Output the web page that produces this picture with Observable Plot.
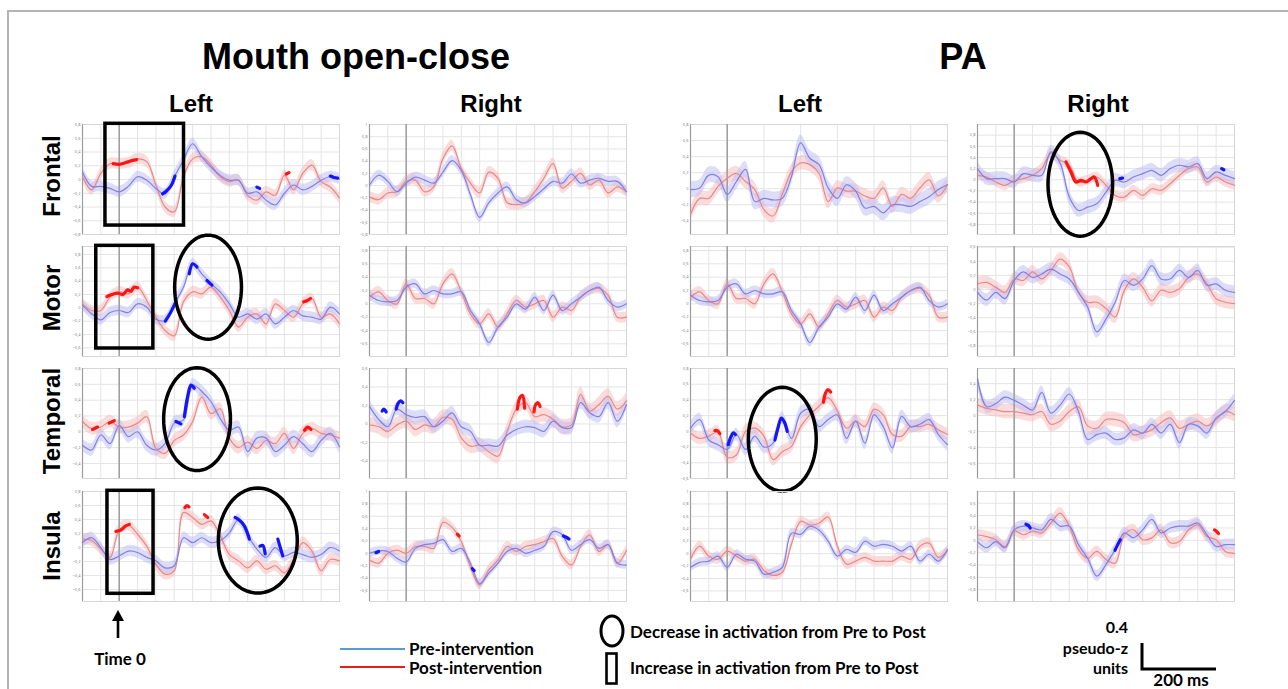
<!DOCTYPE html>
<html>
<head>
<meta charset="utf-8">
<script src="https://cdn.jsdelivr.net/npm/d3@7"></script>
<script src="https://cdn.jsdelivr.net/npm/@observablehq/plot@0.6"></script>
<style>
html, body { margin: 0; padding: 0; background: #fff; }
#fig { position: relative; width: 1288px; height: 689px; overflow: hidden; background: #fff; font-family: "Liberation Sans", Arial, sans-serif; }
#frame { position: absolute; left: 7px; top: 10px; width: 1300px; height: 700px; border: 2px solid #b4b4b4; box-sizing: border-box; }
.t { position: absolute; font-weight: bold; color: #000; white-space: nowrap; line-height: 1; }
.c { transform: translate(-50%, -50%); }
.rot { transform: translate(-50%, -50%) rotate(-90deg); }
.lg { font-family: Lato, "Open Sans", sans-serif; font-size: 17px; transform: translate(0, -50%); }
.lgr { font-family: Lato, "Open Sans", sans-serif; font-size: 16px; line-height: 0.9; transform: translate(-100%, -50%); }
.lgc { font-family: Lato, "Open Sans", sans-serif; font-size: 17px; transform: translate(-50%, -50%); }
</style>
</head>
<body>
<div id="fig"><div id="frame"></div></div>
<script>
// ---------------- data ----------------
const times = [-200,-150,-100,-50,0,50,100,150,200,250,300,350,400,450,500,550,600,650,700,750,800,850,900,950,1000,1050,1100,1150,1200];
const conditions = ["Mouth open-close", "PA"];
const columnLabels = ["Left", "Right", "Left", "Right"];
const regions = ["Frontal", "Motor", "Temporal", "Insula"];

// Frontal
const frontalMouthLeftPre  = [0.11,-0.10,-0.10,-0.13,-0.18,-0.10,0.04,-0.01,-0.13,-0.21,0.04,0.28,0.52,0.33,0.18,0.06,-0.01,-0.01,-0.20,-0.18,-0.30,-0.37,-0.20,-0.08,-0.15,-0.10,-0.01,0.04,0.01];
const frontalMouthLeftPost = [0.04,-0.15,0.09,0.23,0.23,0.24,0.30,0.26,-0.08,-0.40,-0.47,0.04,0.30,0.33,0.21,0.04,-0.03,-0.01,-0.23,-0.30,-0.18,-0.23,0.06,-0.15,0.09,0.21,-0.03,-0.11,-0.27];
const frontalMouthRightPre  = [0.01,0.17,0.07,-0.10,0.04,0.14,0.09,0.04,0.22,0.41,0.25,-0.15,-0.52,-0.28,-0.12,-0.02,-0.23,-0.28,-0.18,-0.05,0.07,0.04,0.19,0.04,0.09,0.12,0.07,0.07,-0.10];
const frontalMouthRightPost = [-0.18,-0.23,-0.12,-0.10,0.07,0.09,-0.10,-0.02,0.44,0.65,0.28,0.04,-0.12,0.22,0.12,-0.28,-0.31,-0.28,-0.10,0.12,0.36,-0.04,0.07,0.20,0.01,0.09,-0.12,-0.02,-0.10];
const frontalPALeftPre  = [-0.01,0.01,0.17,0.15,-0.07,0.09,0.24,-0.16,-0.12,-0.14,-0.12,0.15,0.57,0.38,0.30,0.01,-0.12,0.05,-0.03,-0.24,-0.22,-0.30,-0.20,-0.20,-0.22,-0.16,-0.10,-0.01,0.05];
const frontalPALeftPost = [-0.32,-0.12,-0.12,0.03,0.13,0.19,0.09,-0.01,-0.26,-0.34,-0.07,0.21,0.32,0.30,0.19,-0.16,0.01,-0.03,-0.03,-0.09,-0.12,0.01,-0.22,-0.07,-0.12,0.01,0.11,-0.09,0.05];
const frontalPARightPre  = [0.20,0.02,0.02,0.02,-0.04,0.11,0.08,0.08,0.50,0.30,-0.31,-0.55,-0.49,-0.43,-0.22,-0.01,-0.04,0.05,0.11,0.17,0.08,0.20,0.26,0.23,0.29,0.02,0.14,0.08,0.02];
const frontalPARightPost = [0.08,0.05,-0.04,-0.10,-0.01,0.02,0.08,0.20,0.47,0.35,0.26,-0.04,-0.01,0.05,-0.10,-0.28,-0.31,-0.19,-0.28,-0.16,-0.19,-0.07,0.08,0.20,0.23,-0.04,0.05,-0.04,-0.10];
// Motor
const motorMouthLeftPre  = [0.04,-0.09,-0.18,-0.07,-0.04,-0.07,0.06,0.01,-0.17,-0.19,0.06,0.31,0.66,0.51,0.36,0.24,0.06,-0.14,-0.09,-0.17,-0.09,-0.24,-0.14,-0.04,-0.12,-0.14,-0.17,0.01,-0.09];
const motorMouthLeftPost = [0.06,-0.04,-0.04,0.16,0.24,0.21,0.31,0.11,-0.14,-0.34,-0.42,0.09,0.24,0.21,0.31,0.16,-0.04,-0.29,-0.14,-0.09,-0.24,0.06,-0.04,-0.14,0.06,0.14,-0.14,-0.09,-0.24];
const motorMouthRightPre  = [0.13,0.05,0.03,0.05,0.25,0.30,0.15,0.20,0.15,0.15,0.18,-0.10,-0.30,-0.58,-0.35,-0.20,0.00,-0.08,0.10,-0.10,0.13,-0.10,0.00,0.10,0.20,0.25,0.05,-0.05,0.00];
const motorMouthRightPost = [0.10,0.18,0.05,0.00,0.30,0.08,0.08,0.00,0.30,0.45,0.18,-0.15,-0.30,-0.15,-0.35,-0.15,0.05,-0.05,0.00,0.05,-0.20,-0.05,-0.10,0.10,0.20,0.23,0.13,-0.20,-0.20];
const motorPALeftPre  = [0.13,0.05,0.03,0.05,0.25,0.30,0.15,0.20,0.15,0.15,0.18,-0.10,-0.30,-0.58,-0.35,-0.20,0.00,-0.08,0.10,-0.10,0.13,-0.10,0.00,0.10,0.20,0.25,0.05,-0.05,0.00];
const motorPALeftPost = [0.10,0.18,0.05,0.00,0.30,0.08,0.08,0.00,0.30,0.45,0.18,-0.15,-0.30,-0.15,-0.35,-0.15,0.05,-0.05,0.00,0.05,-0.20,-0.05,-0.10,0.10,0.20,0.23,0.13,-0.20,-0.20];
const motorPARightPre  = [-0.04,-0.15,-0.04,-0.13,0.13,0.25,0.17,0.22,0.29,0.22,0.15,-0.04,-0.25,-0.60,-0.42,-0.18,0.13,0.06,0.15,0.34,0.15,0.15,0.27,0.17,0.27,0.06,0.08,-0.01,-0.04];
const motorPARightPost = [0.08,0.10,0.03,-0.04,0.15,0.13,0.25,0.15,0.27,0.43,0.32,-0.04,-0.18,-0.18,-0.27,-0.39,-0.01,0.15,0.03,-0.16,-0.01,-0.04,0.01,0.17,0.22,0.08,-0.13,-0.18,-0.20];
// Temporal
const temporalMouthLeftPre  = [-0.17,-0.23,-0.04,-0.15,0.08,-0.06,0.00,-0.17,-0.23,-0.15,0.11,0.15,0.59,0.51,0.38,0.17,0.02,0.06,-0.25,-0.08,-0.08,-0.25,-0.17,-0.06,-0.15,-0.25,-0.11,-0.02,-0.19];
const temporalMouthLeftPost = [0.13,0.04,0.06,0.13,0.06,0.06,0.11,0.19,-0.21,-0.27,-0.11,-0.04,0.13,0.44,0.23,0.29,-0.08,-0.20,-0.13,-0.21,-0.11,-0.15,-0.02,-0.21,-0.02,0.04,-0.02,-0.04,-0.08];
const temporalMouthRightPre  = [0.19,0.05,-0.03,0.16,0.10,0.07,0.08,-0.03,0.03,0.12,-0.03,-0.08,-0.23,-0.23,-0.24,-0.12,-0.06,-0.03,-0.04,-0.08,0.03,-0.04,-0.04,0.23,0.12,0.08,0.23,0.03,0.21];
const temporalMouthRightPost = [-0.01,-0.03,-0.08,-0.01,0.03,-0.06,-0.01,-0.03,0.07,0.05,-0.15,-0.24,-0.23,-0.30,-0.35,-0.08,0.16,0.23,0.08,0.10,0.05,-0.03,-0.01,0.32,0.14,0.21,0.30,0.16,0.25];
const temporalPALeftPre  = [0.04,0.15,-0.11,-0.17,-0.23,-0.04,-0.23,-0.06,-0.20,-0.15,0.17,-0.09,0.23,0.28,0.06,0.15,0.21,-0.09,0.13,-0.15,0.21,0.06,-0.21,0.19,0.06,0.09,0.15,-0.04,-0.17];
const temporalPALeftPost = [-0.02,-0.09,-0.06,-0.01,-0.33,-0.30,0.00,0.04,-0.06,-0.36,-0.26,-0.19,0.06,0.21,0.32,0.43,0.26,0.04,0.13,0.06,0.28,0.21,-0.04,-0.06,0.06,0.06,0.09,0.02,-0.04];
const temporalPARightPre  = [0.46,0.11,0.15,0.23,0.19,0.13,0.07,0.29,0.03,0.13,0.27,0.05,-0.30,-0.24,-0.22,-0.30,-0.28,-0.18,-0.22,-0.11,-0.22,-0.11,-0.34,-0.11,-0.13,-0.22,-0.03,0.05,0.19];
const temporalPARightPost = [0.13,0.09,0.07,0.05,0.05,0.03,0.01,0.05,-0.11,-0.07,0.05,0.11,-0.13,-0.16,-0.05,-0.05,-0.09,-0.24,-0.22,-0.18,-0.09,-0.03,-0.16,-0.11,-0.07,-0.13,-0.05,0.05,0.01];
// Insula
const insulaMouthLeftPre  = [0.07,0.14,0.00,-0.17,-0.12,-0.05,-0.07,-0.14,-0.19,-0.29,-0.26,0.14,0.07,0.14,0.07,0.10,0.21,0.40,0.17,-0.02,-0.14,0.00,-0.12,-0.07,-0.10,-0.14,-0.10,0.00,-0.05];
const insulaMouthLeftPost = [0.12,0.10,-0.02,-0.14,0.25,0.32,0.19,0.02,-0.24,-0.38,-0.33,0.50,0.43,0.33,0.38,0.17,-0.10,-0.19,-0.29,-0.19,-0.31,-0.26,-0.36,-0.17,0.07,-0.05,-0.33,-0.17,-0.19];
const insulaMouthRightPre  = [0.00,0.04,0.03,-0.08,-0.14,0.08,0.14,0.16,0.22,0.03,0.08,-0.16,-0.49,-0.32,-0.16,0.03,0.08,0.00,0.05,0.11,0.35,0.30,0.05,0.14,0.22,0.08,0.14,-0.16,-0.19];
const insulaMouthRightPost = [-0.11,-0.16,0.00,0.05,0.00,0.11,0.11,0.08,0.50,0.42,0.19,-0.22,-0.51,-0.27,-0.11,0.11,0.03,0.11,0.14,0.19,0.24,-0.05,-0.19,0.11,0.30,0.03,0.14,-0.16,0.05];
const insulaPALeftPre  = [-0.22,-0.14,-0.12,-0.04,-0.22,-0.01,-0.09,-0.12,-0.33,-0.30,-0.22,0.33,0.31,0.44,0.38,0.20,-0.04,0.07,0.02,0.20,0.12,0.15,0.12,0.04,0.12,-0.12,-0.01,-0.12,0.07];
const insulaPALeftPost = [-0.09,0.12,-0.04,-0.09,0.04,-0.04,-0.12,-0.09,-0.27,-0.35,-0.30,0.15,0.52,0.46,0.49,0.59,0.12,-0.17,-0.12,-0.06,-0.12,-0.12,-0.12,-0.04,-0.09,0.12,0.17,-0.06,0.04];
const insulaPARightPre  = [-0.02,-0.12,-0.02,-0.12,0.17,0.23,0.20,0.17,0.34,0.23,0.23,-0.07,-0.29,-0.58,-0.39,-0.15,0.12,0.04,0.17,0.34,0.12,0.20,0.23,0.23,0.28,0.09,-0.10,-0.07,-0.07];
const insulaPARightPost = [0.09,0.06,0.01,-0.10,0.15,0.09,0.15,0.12,0.28,0.44,0.23,-0.15,-0.29,-0.18,-0.31,-0.37,0.09,0.17,0.01,0.04,0.17,-0.04,-0.02,0.17,0.25,0.06,0.01,-0.18,-0.21];

// y-axis range of each panel (row-major: Frontal, Motor, Temporal, Insula; columns Mouth L, Mouth R, PA L, PA R)
const yDomains = [
  [-0.80, 0.80], [-0.80, 1.00], [-0.57, 0.80], [-0.98, 0.99],
  [-0.73, 0.92], [-0.79, 0.86], [-0.79, 0.86], [-0.95, 0.61],
  [-0.59, 0.80], [-0.59, 0.60], [-0.60, 0.80], [-0.79, 0.59],
  [-0.77, 0.80], [-0.78, 1.00], [-0.77, 1.00], [-0.99, 0.79]
];
// half-width of the shaded error band (pseudo-z)
const preBands  = [0.08,0.08,0.10,0.12, 0.08,0.07,0.07,0.09, 0.08,0.07,0.08,0.08, 0.08,0.07,0.07,0.09];
const postBands = [0.08,0.09,0.09,0.09, 0.08,0.08,0.08,0.09, 0.08,0.08,0.08,0.09, 0.08,0.08,0.08,0.09];
const gridSteps = [100,100,200,100, 100,100,100,100, 100,100,100,100, 100,100,100,100];

// significant segments (thick lines): panel index, series, times, values
const highlights = [
  {panel: 0, series: "post", t: [-33, 0, 30, 60, 95], v: [0.23, 0.22, 0.24, 0.27, 0.29]},
  {panel: 0, series: "pre", t: [236, 260, 285, 304], v: [-0.21, -0.16, -0.08, 0.05]},
  {panel: 0, series: "pre", t: [750, 765], v: [-0.11, -0.13]},
  {panel: 0, series: "post", t: [910, 925], v: [0.08, 0.10]},
  {panel: 0, series: "pre", t: [1150, 1170, 1190], v: [0.05, 0.03, 0.02]},
  {panel: 3, series: "post", t: [282, 309, 336, 364, 391, 418, 436, 455], v: [0.32, 0.14, -0.04, -0.01, -0.04, 0.02, 0.05, -0.10]},
  {panel: 3, series: "pre", t: [575, 590], v: [0.02, 0.03]},
  {panel: 3, series: "pre", t: [1130, 1142], v: [0.20, 0.18]},
  {panel: 4, series: "post", t: [-67, -40, -10, 20, 45, 65, 80, 100], v: [0.17, 0.20, 0.22, 0.20, 0.27, 0.25, 0.31, 0.30]},
  {panel: 4, series: "post", t: [1005, 1025, 1042], v: [0.09, 0.11, 0.14]},
  {panel: 4, series: "pre", t: [251, 280, 305], v: [-0.20, -0.07, 0.07]},
  {panel: 4, series: "pre", t: [382, 400, 424], v: [0.51, 0.66, 0.61]},
  {panel: 4, series: "pre", t: [478, 505], v: [0.41, 0.34]},
  {panel: 8, series: "post", t: [-145, -118], v: [0.03, 0.06]},
  {panel: 8, series: "post", t: [-55, -27], v: [0.11, 0.14]},
  {panel: 8, series: "pre", t: [309, 336], v: [0.13, 0.10]},
  {panel: 8, series: "pre", t: [355, 373, 391, 409], v: [0.19, 0.45, 0.59, 0.55]},
  {panel: 8, series: "post", t: [1009, 1027, 1045], v: [0.02, 0.06, 0.03]},
  {panel: 9, series: "pre", t: [-131, -122, -109], v: [0.14, 0.16, 0.13]},
  {panel: 9, series: "pre", t: [-55, -45, -31, -18], v: [0.16, 0.22, 0.25, 0.23]},
  {panel: 9, series: "post", t: [605, 620, 633, 645], v: [0.16, 0.29, 0.31, 0.17]},
  {panel: 9, series: "post", t: [696, 705, 718, 729], v: [0.13, 0.21, 0.23, 0.19]},
  {panel: 10, series: "post", t: [-67, -55, -40], v: [0.01, 0.01, -0.03]},
  {panel: 10, series: "pre", t: [5, 22, 33, 45], v: [-0.17, -0.06, -0.02, -0.04]},
  {panel: 10, series: "pre", t: [260, 276, 295, 313, 327], v: [-0.11, 0.04, 0.17, 0.11, 0.00]},
  {panel: 10, series: "post", t: [524, 536, 549, 564], v: [0.37, 0.49, 0.53, 0.50]},
  {panel: 12, series: "post", t: [-18, 9, 36, 55], v: [0.23, 0.25, 0.31, 0.33]},
  {panel: 12, series: "post", t: [358, 369, 380], v: [0.57, 0.60, 0.58]},
  {panel: 12, series: "post", t: [464, 482], v: [0.47, 0.43]},
  {panel: 12, series: "pre", t: [631, 655, 682, 709], v: [0.43, 0.39, 0.31, 0.12]},
  {panel: 12, series: "pre", t: [767, 782, 795], v: [0.02, 0.03, -0.09]},
  {panel: 12, series: "pre", t: [864, 891], v: [0.12, -0.12]},
  {panel: 13, series: "pre", t: [-165, -150], v: [0.01, 0.03]},
  {panel: 13, series: "post", t: [278, 288], v: [0.31, 0.28]},
  {panel: 13, series: "pre", t: [360, 370], v: [-0.25, -0.28]},
  {panel: 13, series: "pre", t: [856, 872, 887], v: [0.28, 0.26, 0.23]},
  {panel: 15, series: "pre", t: [64, 78, 87], v: [0.26, 0.24, 0.20]},
  {panel: 15, series: "pre", t: [549, 564, 578], v: [-0.16, -0.07, 0.01]},
  {panel: 15, series: "post", t: [1091, 1100, 1113], v: [0.17, 0.15, 0.11]}
];

// annotation boxes ("Increase") and ellipses ("Decrease") in data units
const increaseBoxes = [
  {panel: 0, t1: -75, t2: 353, v1: -0.67, v2: 0.81},
  {panel: 4, t1: -125, t2: 186, v1: -0.61, v2: 0.93},
  {panel: 12, t1: -64, t2: 187, v1: -0.66, v2: 0.81}
];
const decreaseEllipses = [
  {panel: 3, t: 360, v: -0.08, rt: 176, rv: 0.93},
  {panel: 4, t: 484, v: 0.31, rt: 182, rv: 0.78},
  {panel: 8, t: 424, v: 0.16, rt: 182, rv: 0.65},
  {panel: 10, t: 300, v: -0.10, rt: 185, rv: 0.66},
  {panel: 12, t: 755, v: 0.10, rt: 215, rv: 0.75}
];

const preSeries = [frontalMouthLeftPre, frontalMouthRightPre, frontalPALeftPre, frontalPARightPre,
  motorMouthLeftPre, motorMouthRightPre, motorPALeftPre, motorPARightPre,
  temporalMouthLeftPre, temporalMouthRightPre, temporalPALeftPre, temporalPARightPre,
  insulaMouthLeftPre, insulaMouthRightPre, insulaPALeftPre, insulaPARightPre];
const postSeries = [frontalMouthLeftPost, frontalMouthRightPost, frontalPALeftPost, frontalPARightPost,
  motorMouthLeftPost, motorMouthRightPost, motorPALeftPost, motorPARightPost,
  temporalMouthLeftPost, temporalMouthRightPost, temporalPALeftPost, temporalPARightPost,
  insulaMouthLeftPost, insulaMouthRightPost, insulaPALeftPost, insulaPARightPost];

// ---------------- layout ----------------
const fig = document.getElementById("fig");
const colX = [82, 369, 690, 977];
const rowY = [124, 246, 368, 491];
const W = 257, H = 110, mL = 12, mR = 4, mT = 4, mB = 6;
const PRE = "#8080e2", POST = "#ea8888";
const curve = "catmull-rom";
const fmtTick = v => (Math.abs(v) < 1e-9 ? "0" : d3.format(".1f")(v).replace(".", ",").replace(/^1,0$/, "1"));

preSeries.forEach((pre, i) => {
  const post = postSeries[i];
  const r = Math.floor(i / 4), c = i % 4;
  const rows = times.map((t, k) => ({t, pre: pre[k], post: post[k]}));
  const [lo, hi] = yDomains[i];
  const yt = d3.range(-5, 6).map(k => k / 5).filter(v => v >= lo - 1e-9 && v <= hi + 1e-9);
  const xg = d3.range(-200, 1201, gridSteps[i]);
  const bp = preBands[i], bq = postBands[i];
  const marks = [
    Plot.ruleY(yt, {stroke: "#e4e4e4", strokeWidth: 1}),
    Plot.ruleX(xg, {stroke: "#e4e4e4", strokeWidth: 1}),
    Plot.frame({stroke: "#d6d6d6"}),
    Plot.areaY(rows, {x: "t", y1: d => d.post - bq, y2: d => d.post + bq, fill: "#f6b9b9", fillOpacity: 0.5, curve}),
    Plot.areaY(rows, {x: "t", y1: d => d.pre - bp, y2: d => d.pre + bp, fill: "#bcbcf6", fillOpacity: 0.5, curve}),
    Plot.ruleX([-200], {stroke: "#9c9c9c", strokeWidth: 1.2}),
    Plot.ruleX([0], {stroke: "#a0a0a0", strokeWidth: 1.6}),
    Plot.line(rows, {x: "t", y: "post", stroke: POST, strokeWidth: 1.2, curve}),
    Plot.line(rows, {x: "t", y: "pre", stroke: PRE, strokeWidth: 1.2, curve}),
    Plot.text(yt, {y: d => d, frameAnchor: "left", text: fmtTick, textAnchor: "end", dx: -2, fontSize: 4, fill: "#8a8a8a"})
  ];
  highlights.filter(h => h.panel === i).forEach(h => {
    const pts = h.t.map((t, k) => ({t, v: h.v[k]}));
    marks.push(Plot.line(pts, {x: "t", y: "v", stroke: h.series === "pre" ? "#1414ff" : "#ff1414",
      strokeWidth: 3.2, strokeLinecap: "round", curve}));
  });
  increaseBoxes.filter(b => b.panel === i).forEach(b => {
    marks.push(Plot.rect([b], {x1: "t1", x2: "t2", y1: "v1", y2: "v2", fill: "none", stroke: "#000", strokeWidth: 3.5}));
  });
  decreaseEllipses.filter(e => e.panel === i).forEach(e => {
    const pts = d3.range(72).map(k => {
      const a = (k / 72) * 2 * Math.PI;
      return {t: e.t + e.rt * Math.cos(a), v: e.v + e.rv * Math.sin(a)};
    });
    marks.push(Plot.line(pts, {x: "t", y: "v", stroke: "#000", strokeWidth: 3.5, curve: "linear-closed"}));
  });
  const svg = Plot.plot({
    width: W + mL + mR, height: H + mT + mB,
    marginLeft: mL, marginRight: mR, marginTop: mT, marginBottom: mB,
    x: {domain: [-200, 1200], axis: null},
    y: {domain: [lo, hi], axis: null},
    style: {background: "transparent", overflow: "visible"},
    marks
  });
  svg.style.position = "absolute";
  svg.style.left = (colX[c] - mL) + "px";
  svg.style.top = (rowY[r] - mT) + "px";
  fig.appendChild(svg);
});

// ---------------- text ----------------
function addText(txt, cls, x, y, style) {
  const d = document.createElement("div");
  d.className = "t " + cls;
  d.textContent = txt;
  d.style.left = x + "px";
  d.style.top = y + "px";
  Object.assign(d.style, style || {});
  fig.appendChild(d);
}
addText(conditions[0], "c", 356, 57, {fontSize: "36px"});
addText(conditions[1], "c", 963, 57, {fontSize: "36px"});
const colCenters = [191, 491, 800, 1098];
columnLabels.forEach((l, k) => addText(l, "c", colCenters[k], 104, {fontSize: "24px"}));
const rowCenters = [176, 298, 421, 546];
regions.forEach((l, k) => addText(l, "rot", 52, rowCenters[k], {fontSize: "24px"}));

addText("Time 0", "lgc", 120, 658, {});
addText("Pre-intervention", "lg", 409, 648, {});
addText("Post-intervention", "lg", 409, 667, {});
addText("Decrease in activation from Pre to Post", "lg", 630, 631, {});
addText("Increase in activation from Pre to Post", "lg", 630, 667, {});
addText("0.4", "lgr", 1128, 627, {});
addText("pseudo-z", "lgr", 1128, 648, {});
addText("units", "lgr", 1128, 668, {});
addText("200 ms", "lgc", 1181, 679, {});

// ---------------- legend glyphs ----------------
const ns = "http://www.w3.org/2000/svg";
const ov = document.createElementNS(ns, "svg");
ov.setAttribute("width", 1288); ov.setAttribute("height", 689);
ov.style.position = "absolute"; ov.style.left = "0px"; ov.style.top = "0px"; ov.style.pointerEvents = "none";
ov.innerHTML = `
  <line x1="118" y1="638" x2="118" y2="619" stroke="#000" stroke-width="2.6"/>
  <path d="M112,621 L118,610 L124,621 Z" fill="#000"/>
  <line x1="340" y1="649" x2="405" y2="649" stroke="#5b9bd5" stroke-width="2"/>
  <line x1="340" y1="667" x2="405" y2="667" stroke="#e41e1e" stroke-width="2"/>
  <ellipse cx="612" cy="631" rx="11" ry="15" fill="none" stroke="#000" stroke-width="3"/>
  <rect x="606.5" y="653.5" width="10" height="30" fill="none" stroke="#000" stroke-width="2.6"/>
  <polyline points="1142,643 1142,669 1216,669" fill="none" stroke="#000" stroke-width="3"/>
`;
fig.appendChild(ov);
</script>
</body>
</html>
